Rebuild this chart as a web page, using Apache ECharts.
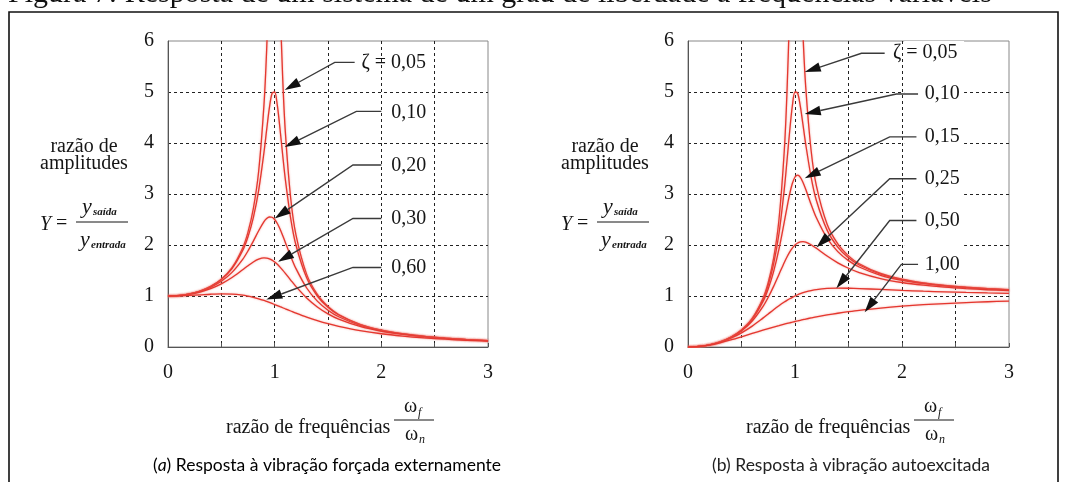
<!DOCTYPE html>
<html>
<head>
<meta charset="utf-8">
<title>Resposta de um sistema de um grau de liberdade</title>
<script src="https://cdn.jsdelivr.net/npm/echarts@6/dist/echarts.min.js"></script>
<style>
html, body { margin: 0; padding: 0; background: #fff; }
#main { width: 1065px; height: 482px; }
</style>
</head>
<body>
<div id="main"></div>
<script>
// razão de frequências wf/wn (eixo x, comum aos dois gráficos)
var ratios = [0, 0.1, 0.2, 0.3, 0.4, 0.5, 0.6, 0.7, 0.75, 0.8, 0.85, 0.9, 0.925, 0.95, 0.975, 1,
  1.025, 1.05, 1.075, 1.1, 1.15, 1.2, 1.3, 1.4, 1.5, 1.6, 1.8, 2, 2.2, 2.4, 2.6, 2.8, 3];

// (a) vibração forçada externamente - razão de amplitudes
var forced005 = [1, 1.010, 1.041, 1.098, 1.189, 1.330, 1.556, 1.943, 2.253, 2.712, 3.446, 4.757, 5.832, 7.346, 9.150, 10,
  8.747, 6.815, 5.287, 4.218, 2.921, 2.193, 1.424, 1.031, 0.794, 0.638, 0.445, 0.333, 0.260, 0.210, 0.173, 0.146, 0.125];
var forced010 = [1, 1.010, 1.041, 1.097, 1.185, 1.322, 1.536, 1.891, 2.162, 2.538, 3.073, 3.821, 4.261, 4.683, 4.971, 5,
  4.736, 4.279, 3.768, 3.288, 2.524, 1.995, 1.356, 1.000, 0.778, 0.628, 0.441, 0.330, 0.259, 0.209, 0.173, 0.146, 0.125];
var forced020 = [1, 1.009, 1.038, 1.089, 1.169, 1.288, 1.463, 1.719, 1.885, 2.076, 2.279, 2.457, 2.518, 2.549, 2.544, 2.5,
  2.421, 2.313, 2.187, 2.051, 1.780, 1.536, 1.157, 0.900, 0.721, 0.593, 0.425, 0.322, 0.254, 0.206, 0.171, 0.144, 0.124];
var forced030 = [1, 1.008, 1.034, 1.078, 1.145, 1.238, 1.362, 1.514, 1.593, 1.667, 1.722, 1.747, 1.744, 1.729, 1.703, 1.667,
  1.621, 1.567, 1.507, 1.444, 1.313, 1.185, 0.960, 0.784, 0.649, 0.546, 0.402, 0.309, 0.246, 0.201, 0.168, 0.142, 0.122];
var forced060 = [1, 1.003, 1.011, 1.022, 1.034, 1.041, 1.038, 1.018, 0.999, 0.975, 0.946, 0.912, 0.893, 0.874, 0.854, 0.833,
  0.812, 0.791, 0.770, 0.748, 0.706, 0.664, 0.586, 0.517, 0.456, 0.404, 0.321, 0.260, 0.215, 0.180, 0.153, 0.131, 0.114];

// (b) vibração autoexcitada
var self005 = [0, 0.010, 0.042, 0.099, 0.190, 0.333, 0.560, 0.952, 1.267, 1.736, 2.490, 3.853, 4.990, 6.630, 8.698, 10,
  9.190, 7.514, 6.110, 5.104, 3.863, 3.158, 2.407, 2.021, 1.787, 1.633, 1.442, 1.330, 1.258, 1.209, 1.172, 1.145, 1.124];
var self010 = [0, 0.010, 0.042, 0.099, 0.190, 0.331, 0.553, 0.927, 1.216, 1.624, 2.220, 3.095, 3.646, 4.226, 4.726, 5,
  4.976, 4.718, 4.354, 3.978, 3.338, 2.873, 2.292, 1.960, 1.750, 1.608, 1.428, 1.322, 1.252, 1.204, 1.169, 1.142, 1.122];
var self015 = [0, 0.010, 0.042, 0.098, 0.189, 0.327, 0.542, 0.888, 1.143, 1.479, 1.917, 2.453, 2.735, 2.996, 3.205, 3.333,
  3.371, 3.328, 3.227, 3.094, 2.800, 2.533, 2.132, 1.871, 1.694, 1.569, 1.406, 1.307, 1.242, 1.197, 1.163, 1.138, 1.118];
var self025 = [0, 0.010, 0.041, 0.098, 0.185, 0.316, 0.509, 0.792, 0.976, 1.189, 1.423, 1.658, 1.766, 1.861, 1.940, 2.000,
  2.040, 2.061, 2.065, 2.055, 2.006, 1.935, 1.783, 1.650, 1.544, 1.460, 1.342, 1.265, 1.212, 1.173, 1.145, 1.123, 1.106];
var self050 = [0, 0.010, 0.041, 0.094, 0.172, 0.277, 0.410, 0.566, 0.648, 0.730, 0.808, 0.881, 0.914, 0.945, 0.974, 1.000,
  1.024, 1.045, 1.064, 1.081, 1.107, 1.127, 1.148, 1.155, 1.152, 1.146, 1.128, 1.109, 1.094, 1.081, 1.070, 1.061, 1.053];
var self100 = [0, 0.010, 0.038, 0.083, 0.138, 0.200, 0.265, 0.329, 0.360, 0.390, 0.419, 0.448, 0.461, 0.474, 0.487, 0.500,
  0.512, 0.524, 0.536, 0.548, 0.569, 0.590, 0.628, 0.662, 0.692, 0.719, 0.764, 0.800, 0.829, 0.852, 0.871, 0.887, 0.900];

var forcedNames = ['ζ = 0,05', '0,10', '0,20', '0,30', '0,60'];
var selfNames = ['ζ = 0,05', '0,10', '0,15', '0,25', '0,50', '1,00'];

// rótulos dos eixos
var xTickLabels = [0, 1, 2, 3];
var yTickLabels = [0, 1, 2, 3, 4, 5, 6];

// setas de anotação (coordenadas de dados: texto, início, cotovelo, ponta)
var forcedNotes = [
  { label: [1.813, 5.58], start: [1.750, 5.58], elbow: [1.563, 5.58], tip: [1.094, 5.04] },
  { label: [2.094, 4.60], start: [2.000, 4.62], elbow: [1.766, 4.62], tip: [1.094, 3.92] },
  { label: [2.094, 3.55], start: [2.000, 3.57], elbow: [1.734, 3.57], tip: [1.000, 2.52] },
  { label: [2.094, 2.52], start: [2.000, 2.52], elbow: [1.734, 2.52], tip: [1.031, 1.67] },
  { label: [2.094, 1.56], start: [2.000, 1.56], elbow: [1.734, 1.56], tip: [0.922, 0.93] }
];
var selfNotes = [
  { label: [1.916, 5.76], start: [1.838, 5.76], elbow: [1.621, 5.76], tip: [1.091, 5.39] },
  { label: [2.212, 4.96], start: [2.150, 4.96], elbow: [1.948, 4.96], tip: [1.091, 4.57] },
  { label: [2.212, 4.12], start: [2.135, 4.12], elbow: [1.885, 4.12], tip: [1.091, 3.31] },
  { label: [2.212, 3.30], start: [2.135, 3.30], elbow: [1.885, 3.30], tip: [1.200, 1.95] },
  { label: [2.212, 2.48], start: [2.135, 2.48], elbow: [1.885, 2.48], tip: [1.387, 1.15] },
  { label: [2.212, 1.62], start: [2.150, 1.62], elbow: [1.994, 1.62], tip: [1.651, 0.68] }
];
// faixa branca atrás dos rótulos do gráfico (b)
var selfMask = [[2.02, 6], [2.58, 1.39]];

var SERIF = '"Liberation Serif", "DejaVu Serif", serif';
var INK = '#151515';

function pairs(values) {
  return ratios.map(function (r, i) { return [r, values[i]]; });
}

function curve(values, idx) {
  return {
    type: 'line',
    xAxisIndex: idx,
    yAxisIndex: idx,
    data: pairs(values),
    smooth: 0.3,
    symbol: 'none',
    silent: true,
    clip: true,
    lineStyle: { color: '#e4372f', width: 1.3, shadowColor: 'rgba(240,120,110,0.7)', shadowBlur: 2 }
  };
}

function xAxisFor(idx) {
  return {
    type: 'value', gridIndex: idx, min: 0, max: 3, interval: 0.5,
    axisLine: { show: true, onZero: false, lineStyle: { color: '#555', width: 1 } },
    axisTick: { show: true, inside: true, length: 4, lineStyle: { color: '#555' } },
    axisLabel: {
      margin: 16, fontFamily: SERIF, fontSize: 20, color: INK,
      formatter: function (v) { return xTickLabels.indexOf(v) >= 0 ? String(v) : ''; }
    },
    splitLine: { show: true, showMinLine: false, showMaxLine: false, lineStyle: { color: '#222', type: [3, 3], width: 1 } }
  };
}

function yAxisFor(idx) {
  return {
    type: 'value', gridIndex: idx, min: 0, max: 6, interval: 1,
    axisLine: { show: true, onZero: false, lineStyle: { color: '#555', width: 1 } },
    axisTick: { show: false },
    axisLabel: {
      margin: 14, fontFamily: SERIF, fontSize: 20, color: INK,
      formatter: function (v) { return yTickLabels.indexOf(v) >= 0 ? String(v) : ''; }
    },
    splitLine: { show: true, showMinLine: false, showMaxLine: false, lineStyle: { color: '#222', type: [3, 3], width: 1 } }
  };
}

function txt(x, y, text, font, align, extra) {
  var st = { text: text, font: font, fill: INK, align: align || 'left', verticalAlign: 'middle',
    textAlign: align || 'left', textVerticalAlign: 'middle' };
  for (var k in extra || {}) st[k] = extra[k];
  return { type: 'text', x: x, y: y, z: 20, style: st };
}

function hline(x1, x2, y) {
  return { type: 'line', z: 20, shape: { x1: x1, y1: y, x2: x2, y2: y }, style: { stroke: INK, lineWidth: 1 } };
}

// título do eixo y: razão de amplitudes Y = y_saida / y_entrada
function yTitle(dx) {
  return [
    txt(84 + dx, 147, 'razão de', '20px ' + SERIF, 'center'),
    txt(84 + dx, 164, 'amplitudes', '20px ' + SERIF, 'center'),
    txt(40 + dx, 225, 'Y', 'italic 20px ' + SERIF),
    txt(56 + dx, 224, '=', '20px ' + SERIF),
    hline(76 + dx, 128 + dx, 222),
    txt(82 + dx, 207, 'y', 'italic 22px ' + SERIF),
    txt(93 + dx, 212, 'saída', 'italic bold 11px ' + SERIF),
    txt(80 + dx, 240, 'y', 'italic 22px ' + SERIF),
    txt(91 + dx, 245, 'entrada', 'italic bold 11px ' + SERIF)
  ];
}

// título do eixo x: razão de frequências wf/wn
function xTitle(dx) {
  return [
    txt(226 + dx, 428, 'razão de frequências', '20px ' + SERIF),
    txt(404 + dx, 407, 'ω', '20px ' + SERIF),
    txt(418 + dx, 413, 'f', 'italic 12px ' + SERIF),
    hline(394 + dx, 434 + dx, 420),
    txt(405 + dx, 435, 'ω', '20px ' + SERIF),
    txt(419 + dx, 440, 'n', 'italic 12px ' + SERIF)
  ];
}

var chart = echarts.init(document.getElementById('main'), null, { renderer: 'canvas' });

var option = {
  animation: false,
  backgroundColor: '#fff',
  grid: [
    { left: 168, top: 41, width: 320, height: 306, show: true, borderColor: '#888', borderWidth: 1 },
    { left: 688, top: 41, width: 321, height: 306, show: true, borderColor: '#888', borderWidth: 1 }
  ],
  xAxis: [xAxisFor(0), xAxisFor(1)],
  yAxis: [yAxisFor(0), yAxisFor(1)],
  series: [
    curve(forced005, 0), curve(forced010, 0), curve(forced020, 0), curve(forced030, 0), curve(forced060, 0),
    curve(self005, 1), curve(self010, 1), curve(self015, 1), curve(self025, 1), curve(self050, 1), curve(self100, 1)
  ]
};
chart.setOption(option);

// setas: segmento horizontal + diagonal com ponta triangular cheia
function notesGraphic(notes, names, gridIndex) {
  var out = [];
  notes.forEach(function (n, i) {
    var s = chart.convertToPixel({ gridIndex: gridIndex }, n.start);
    var e = chart.convertToPixel({ gridIndex: gridIndex }, n.elbow);
    var t = chart.convertToPixel({ gridIndex: gridIndex }, n.tip);
    var l = chart.convertToPixel({ gridIndex: gridIndex }, n.label);
    var dx = t[0] - e[0], dy = t[1] - e[1];
    var len = Math.sqrt(dx * dx + dy * dy);
    var ux = dx / len, uy = dy / len;
    var bx = t[0] - ux * 16, by = t[1] - uy * 16;
    out.push({
      type: 'polyline', z: 30,
      shape: { points: [s, [e[0], s[1]], [bx, by]] },
      style: { stroke: '#3a3a3a', lineWidth: 1.4, fill: null }
    });
    out.push({
      type: 'polygon', z: 31,
      shape: { points: [t, [bx - uy * 4.8, by + ux * 4.8], [bx + uy * 4.8, by - ux * 4.8]] },
      style: { fill: '#111' }
    });
    out.push(txt(l[0], l[1], names[i], '20px ' + SERIF, 'left'));
  });
  return out;
}

var m0 = chart.convertToPixel({ gridIndex: 1 }, selfMask[0]);
var m1 = chart.convertToPixel({ gridIndex: 1 }, selfMask[1]);

var graphics = [
  // moldura da figura
  { type: 'rect', z: 1, shape: { x: 9, y: 12, width: 1049, height: 480 }, style: { fill: null, stroke: '#111', lineWidth: 1.6 } },
  txt(8, -6, 'Figura 7: Resposta de um sistema de um grau de liberdade a frequências variáveis', '30px ' + SERIF, 'left', { fill: '#111' }),
  { type: 'rect', z: 5, shape: { x: m0[0], y: m0[1], width: m1[0] - m0[0], height: m1[1] - m0[1] }, style: { fill: '#fff' } },
  {
    type: 'text', x: 327, y: 465, z: 20,
    style: {
      text: '{n|(}{i|a}{n|) Resposta à vibração forçada externamente}',
      align: 'center', verticalAlign: 'middle', textAlign: 'center', textVerticalAlign: 'middle',
      rich: {
        n: { fontFamily: 'Lato', fontSize: 17.5, color: '#222' },
        i: { fontFamily: 'Lato', fontSize: 17.5, fontStyle: 'italic', color: '#222' }
      }
    }
  },
  txt(851, 465, '(b) Resposta à vibração autoexcitada', '17.5px Lato', 'center', { fill: '#222' })
];
graphics = graphics.concat(yTitle(0), yTitle(521), xTitle(0), xTitle(520));
graphics = graphics.concat(notesGraphic(forcedNotes, forcedNames, 0), notesGraphic(selfNotes, selfNames, 1));

chart.setOption({ graphic: graphics });
</script>
</body>
</html>
